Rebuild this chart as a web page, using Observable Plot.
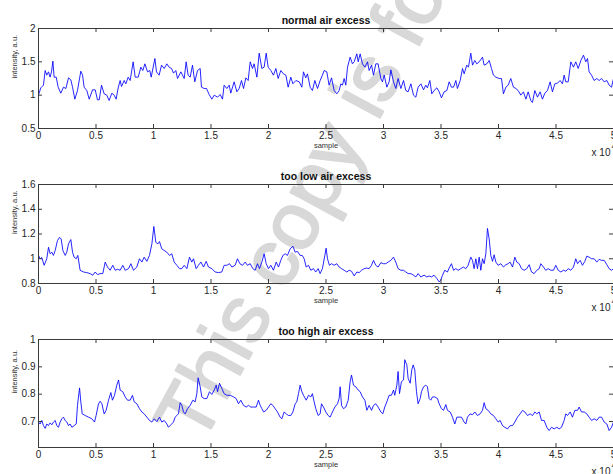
<!DOCTYPE html>
<html><head><meta charset="utf-8">
<script src="https://cdn.jsdelivr.net/npm/d3@7"></script>
<script src="https://cdn.jsdelivr.net/npm/@observablehq/plot@0.6"></script>
<style>
html,body{margin:0;padding:0;background:#fff;}
#wrap{position:relative;width:613px;height:474px;overflow:hidden;font-family:"Liberation Sans",Arial,sans-serif;}
#wrap svg.panel{display:block;max-width:none;position:relative;z-index:1;}
#wm{position:absolute;left:0;top:0;pointer-events:none;z-index:0;}
</style></head><body><div id="wrap"></div>
<script>
const titles = ["normal air excess", "too low air excess", "too high air excess"];
const xLabel = "sample";
const yLabel = "intensity, a.u.";
const xExponent = ["x 10", "4"];
const watermark = "This copy is for";
const xTicks = [0, 0.5, 1, 1.5, 2, 2.5, 3, 3.5, 4, 4.5, 5];
const yTicksNormal = [0.5, 1, 1.5, 2];
const yTicksLow = [0.8, 1, 1.2, 1.4, 1.6];
const yTicksHigh = [0.7, 0.8, 0.9, 1];
const yDomainNormal = [0.5, 2];
const yDomainLow = [0.8, 1.6];
const yDomainHigh = [0.605, 1];

// [sample (x 10^4), intensity]
const normal = [[0,1.0],[0.020,1.11],[0.043,1.15],[0.058,1.37],[0.072,1.30],[0.087,1.35],[0.101,1.27],[0.113,1.35],[0.125,1.51],[0.136,1.27],[0.154,1.27],[0.171,1.12],[0.194,1.03],[0.217,1.12],[0.238,1.10],[0.261,1.26],[0.281,1.23],[0.296,1.12],[0.316,0.94],[0.339,1.07],[0.368,1.36],[0.383,1.30],[0.397,1.12],[0.420,1.07],[0.441,0.94],[0.470,1.08],[0.493,1.08],[0.513,0.93],[0.528,0.93],[0.548,1.15],[0.571,1.02],[0.594,1.0],[0.614,0.92],[0.638,1.03],[0.658,1.0],[0.675,0.94],[0.693,1.11],[0.710,1.22],[0.722,1.13],[0.745,1.22],[0.759,1.17],[0.780,1.27],[0.797,1.22],[0.823,1.50],[0.841,1.27],[0.867,1.27],[0.890,1.42],[0.907,1.37],[0.925,1.47],[0.948,1.35],[0.968,1.37],[0.980,1.27],[1.012,1.55],[1.026,1.35],[1.049,1.30],[1.070,1.45],[1.093,1.40],[1.116,1.47],[1.136,1.42],[1.157,1.40],[1.174,1.33],[1.194,1.37],[1.209,1.25],[1.238,1.35],[1.267,1.25],[1.284,1.50],[1.301,1.30],[1.319,1.27],[1.339,1.45],[1.359,1.20],[1.383,1.37],[1.406,1.40],[1.417,1.12],[1.441,1.10],[1.461,1.10],[1.484,1.01],[1.507,0.94],[1.528,1.0],[1.557,0.97],[1.580,1.01],[1.600,0.94],[1.614,1.15],[1.638,1.10],[1.658,1.15],[1.672,1.03],[1.701,1.20],[1.725,1.05],[1.745,1.10],[1.765,1.22],[1.783,1.10],[1.803,1.26],[1.823,1.22],[1.841,1.50],[1.861,1.40],[1.875,1.47],[1.899,1.27],[1.919,1.63],[1.942,1.40],[1.962,1.42],[1.980,1.63],[1.997,1.42],[2.020,1.37],[2.043,1.30],[2.064,1.40],[2.084,1.25],[2.107,1.37],[2.130,1.32],[2.151,1.30],[2.171,1.12],[2.194,1.27],[2.212,1.17],[2.238,1.22],[2.267,1.20],[2.290,1.12],[2.304,1.35],[2.324,1.26],[2.339,1.32],[2.362,1.12],[2.382,1.07],[2.403,1.22],[2.426,1.10],[2.449,1.22],[2.469,1.30],[2.484,1.37],[2.507,1.35],[2.527,1.15],[2.548,1.26],[2.571,1.07],[2.594,1.02],[2.614,1.07],[2.629,1.17],[2.643,1.15],[2.658,1.25],[2.672,1.15],[2.687,1.42],[2.710,1.57],[2.730,1.47],[2.745,1.50],[2.768,1.62],[2.780,1.50],[2.797,1.62],[2.817,1.47],[2.838,1.42],[2.861,1.50],[2.875,1.37],[2.896,1.45],[2.913,1.30],[2.933,1.47],[2.953,1.47],[2.977,1.25],[2.991,1.20],[3.006,1.30],[3.029,1.12],[3.049,1.20],[3.064,1.38],[3.087,1.20],[3.107,1.10],[3.127,1.25],[3.151,1.10],[3.174,1.22],[3.194,1.07],[3.214,1.05],[3.238,1.17],[3.261,1.0],[3.281,0.97],[3.301,1.12],[3.325,1.17],[3.348,1.08],[3.368,1.15],[3.382,1.11],[3.403,1.22],[3.420,1.02],[3.440,1.07],[3.464,1.11],[3.484,1.05],[3.504,0.96],[3.527,1.05],[3.551,1.07],[3.571,1.20],[3.591,1.12],[3.609,1.12],[3.629,1.22],[3.643,1.10],[3.667,1.22],[3.687,1.40],[3.701,1.32],[3.724,1.45],[3.739,1.42],[3.759,1.63],[3.774,1.45],[3.794,1.52],[3.811,1.47],[3.832,1.50],[3.861,1.57],[3.875,1.45],[3.898,1.47],[3.919,1.52],[3.939,1.40],[3.956,1.30],[3.977,1.27],[4.006,1.25],[4.026,1.25],[4.043,1.02],[4.064,1.12],[4.084,1.15],[4.107,1.25],[4.130,1.12],[4.151,1.10],[4.171,1.07],[4.194,1.0],[4.217,1.05],[4.238,0.94],[4.258,1.05],[4.281,0.92],[4.295,0.89],[4.316,1.07],[4.339,0.97],[4.362,1.05],[4.382,0.94],[4.403,1.03],[4.426,1.07],[4.449,1.20],[4.469,1.05],[4.490,1.17],[4.513,1.18],[4.536,1.22],[4.556,1.17],[4.571,1.30],[4.585,1.20],[4.606,1.20],[4.629,1.50],[4.652,1.42],[4.672,1.50],[4.693,1.40],[4.716,1.52],[4.739,1.60],[4.759,1.50],[4.774,1.55],[4.788,1.35],[4.809,1.30],[4.832,1.22],[4.855,1.25],[4.875,1.22],[4.896,1.25],[4.919,1.20],[4.942,1.22],[4.962,1.15],[4.983,1.12],[5.0,1.25]];

const tooLow = [[0,1.027],[0.014,1.0],[0.029,1.01],[0.049,0.947],[0.072,1.0],[0.087,1.093],[0.101,1.04],[0.116,1.053],[0.130,1.027],[0.145,1.067],[0.165,1.147],[0.183,1.173],[0.197,1.16],[0.212,1.067],[0.232,1.027],[0.246,1.053],[0.261,1.12],[0.281,1.155],[0.296,1.053],[0.310,1.013],[0.328,1.0],[0.342,1.027],[0.362,0.907],[0.391,0.893],[0.420,0.888],[0.449,0.88],[0.472,0.867],[0.493,0.893],[0.513,0.872],[0.536,0.88],[0.559,0.88],[0.580,0.973],[0.600,0.933],[0.623,0.907],[0.646,0.947],[0.667,0.907],[0.687,0.915],[0.710,0.907],[0.733,0.947],[0.754,0.907],[0.783,0.92],[0.803,0.96],[0.826,0.907],[0.855,0.933],[0.878,1.0],[0.899,0.973],[0.919,1.013],[0.942,0.979],[0.965,1.027],[0.986,1.12],[1.003,1.261],[1.020,1.133],[1.038,1.12],[1.052,1.139],[1.072,1.08],[1.093,1.067],[1.116,1.053],[1.139,1.027],[1.159,1.04],[1.180,0.973],[1.203,0.947],[1.226,0.92],[1.246,0.92],[1.267,0.947],[1.290,0.92],[1.313,1.013],[1.333,0.973],[1.348,1.0],[1.371,0.92],[1.391,0.947],[1.412,0.973],[1.435,0.933],[1.458,0.979],[1.478,0.933],[1.507,0.92],[1.536,0.893],[1.565,0.888],[1.594,0.893],[1.614,0.947],[1.638,0.947],[1.661,0.96],[1.681,0.933],[1.710,0.947],[1.730,1.0],[1.751,0.96],[1.774,0.947],[1.797,0.973],[1.817,0.947],[1.841,0.96],[1.864,0.92],[1.884,0.907],[1.904,0.96],[1.922,0.92],[1.942,0.973],[1.962,1.04],[1.980,0.96],[2.0,0.92],[2.020,0.947],[2.043,0.907],[2.067,0.973],[2.087,0.933],[2.107,0.987],[2.125,1.027],[2.145,1.04],[2.165,1.027],[2.188,1.08],[2.212,1.101],[2.232,1.053],[2.252,1.059],[2.275,1.027],[2.293,1.027],[2.310,1.0],[2.328,0.933],[2.348,0.947],[2.368,0.907],[2.391,0.92],[2.411,0.893],[2.432,0.92],[2.449,0.88],[2.469,0.92],[2.490,1.027],[2.501,1.085],[2.513,1.0],[2.530,0.947],[2.548,0.96],[2.571,0.947],[2.594,0.96],[2.614,0.933],[2.635,0.92],[2.658,0.907],[2.681,0.893],[2.701,0.907],[2.722,0.899],[2.745,0.861],[2.768,0.893],[2.788,0.888],[2.809,0.907],[2.832,0.92],[2.855,0.925],[2.875,0.92],[2.896,0.947],[2.913,0.987],[2.933,0.947],[2.953,0.933],[2.977,0.968],[2.999,0.96],[3.020,0.96],[3.040,0.973],[3.064,0.987],[3.087,1.013],[3.107,0.973],[3.127,0.92],[3.151,0.907],[3.174,0.907],[3.194,0.893],[3.214,0.88],[3.238,0.88],[3.261,0.867],[3.281,0.853],[3.301,0.88],[3.325,0.853],[3.353,0.867],[3.377,0.853],[3.397,0.861],[3.417,0.853],[3.440,0.867],[3.464,0.84],[3.484,0.813],[3.498,0.827],[3.513,0.867],[3.533,0.907],[3.556,0.893],[3.571,0.925],[3.591,0.96],[3.609,0.907],[3.629,0.92],[3.649,0.907],[3.672,0.92],[3.695,0.933],[3.716,0.92],[3.736,0.947],[3.759,1.013],[3.774,0.987],[3.788,0.92],[3.803,1.0],[3.817,0.92],[3.832,1.013],[3.846,0.907],[3.861,1.0],[3.875,0.96],[3.890,1.04],[3.904,1.245],[3.919,1.16],[3.933,1.027],[3.948,0.979],[3.962,1.032],[3.977,0.973],[3.997,0.947],[4.020,0.96],[4.043,0.933],[4.064,0.952],[4.084,0.96],[4.101,0.973],[4.122,0.933],[4.142,1.013],[4.159,0.973],[4.180,0.96],[4.200,0.92],[4.223,0.907],[4.246,0.92],[4.267,0.952],[4.287,0.893],[4.310,0.88],[4.333,0.907],[4.354,0.92],[4.368,0.96],[4.391,0.933],[4.411,0.907],[4.432,0.92],[4.455,0.907],[4.478,0.907],[4.498,0.947],[4.519,0.907],[4.542,0.893],[4.565,0.907],[4.585,0.899],[4.606,0.92],[4.629,0.907],[4.652,0.933],[4.672,1.0],[4.687,0.96],[4.710,0.987],[4.730,0.947],[4.751,0.979],[4.768,1.021],[4.788,1.013],[4.809,1.0],[4.832,1.0],[4.855,0.973],[4.875,0.995],[4.896,0.987],[4.919,0.987],[4.942,0.952],[4.962,0.92],[4.983,0.907],[5.0,0.92]];

const tooHigh = [[0,0.698],[0.014,0.691],[0.029,0.704],[0.043,0.685],[0.058,0.675],[0.072,0.691],[0.087,0.685],[0.101,0.695],[0.116,0.688],[0.130,0.698],[0.145,0.704],[0.159,0.685],[0.174,0.679],[0.188,0.698],[0.203,0.710],[0.217,0.716],[0.232,0.704],[0.246,0.698],[0.261,0.685],[0.275,0.691],[0.290,0.679],[0.310,0.685],[0.328,0.691],[0.339,0.759],[0.357,0.823],[0.368,0.772],[0.380,0.728],[0.406,0.722],[0.435,0.716],[0.464,0.710],[0.487,0.698],[0.501,0.722],[0.522,0.765],[0.536,0.774],[0.551,0.765],[0.571,0.728],[0.588,0.741],[0.609,0.778],[0.629,0.806],[0.643,0.778],[0.661,0.796],[0.681,0.833],[0.696,0.852],[0.710,0.815],[0.733,0.809],[0.754,0.790],[0.774,0.778],[0.797,0.778],[0.817,0.796],[0.832,0.772],[0.855,0.765],[0.878,0.747],[0.899,0.735],[0.919,0.728],[0.942,0.716],[0.965,0.704],[0.986,0.698],[1.006,0.710],[1.029,0.700],[1.052,0.716],[1.072,0.698],[1.093,0.704],[1.116,0.691],[1.130,0.679],[1.151,0.688],[1.174,0.698],[1.188,0.716],[1.203,0.722],[1.217,0.728],[1.232,0.769],[1.246,0.759],[1.261,0.735],[1.275,0.728],[1.296,0.747],[1.319,0.759],[1.342,0.778],[1.362,0.772],[1.377,0.802],[1.388,0.860],[1.406,0.827],[1.420,0.790],[1.441,0.784],[1.464,0.784],[1.487,0.809],[1.507,0.799],[1.528,0.815],[1.545,0.833],[1.557,0.809],[1.574,0.840],[1.594,0.821],[1.614,0.802],[1.638,0.796],[1.667,0.796],[1.696,0.790],[1.719,0.784],[1.739,0.765],[1.759,0.778],[1.783,0.759],[1.806,0.753],[1.826,0.759],[1.846,0.753],[1.870,0.753],[1.893,0.753],[1.913,0.778],[1.928,0.759],[1.942,0.747],[1.957,0.735],[1.980,0.741],[2.0,0.753],[2.020,0.765],[2.038,0.759],[2.058,0.747],[2.078,0.735],[2.101,0.716],[2.116,0.710],[2.136,0.735],[2.154,0.728],[2.174,0.722],[2.194,0.722],[2.212,0.735],[2.232,0.765],[2.246,0.772],[2.261,0.802],[2.275,0.833],[2.290,0.809],[2.304,0.796],[2.328,0.778],[2.348,0.796],[2.368,0.790],[2.382,0.802],[2.397,0.772],[2.411,0.747],[2.432,0.722],[2.449,0.728],[2.461,0.765],[2.478,0.753],[2.498,0.735],[2.519,0.722],[2.536,0.716],[2.556,0.735],[2.577,0.753],[2.600,0.765],[2.614,0.784],[2.623,0.827],[2.635,0.759],[2.652,0.747],[2.672,0.753],[2.693,0.778],[2.710,0.846],[2.722,0.870],[2.739,0.833],[2.759,0.827],[2.780,0.815],[2.797,0.809],[2.817,0.790],[2.838,0.778],[2.855,0.741],[2.875,0.759],[2.896,0.741],[2.913,0.759],[2.933,0.765],[2.953,0.753],[2.977,0.735],[2.994,0.728],[3.011,0.753],[3.029,0.772],[3.049,0.796],[3.069,0.796],[3.087,0.815],[3.098,0.796],[3.116,0.833],[3.127,0.883],[3.139,0.802],[3.156,0.846],[3.174,0.852],[3.185,0.926],[3.203,0.907],[3.214,0.858],[3.232,0.840],[3.246,0.889],[3.258,0.907],[3.272,0.889],[3.287,0.809],[3.301,0.765],[3.319,0.784],[3.330,0.809],[3.348,0.827],[3.368,0.833],[3.382,0.827],[3.397,0.784],[3.411,0.778],[3.426,0.790],[3.446,0.790],[3.469,0.784],[3.484,0.765],[3.504,0.747],[3.522,0.741],[3.542,0.762],[3.556,0.741],[3.580,0.735],[3.600,0.716],[3.620,0.691],[3.638,0.716],[3.658,0.716],[3.678,0.716],[3.701,0.698],[3.716,0.691],[3.730,0.716],[3.753,0.728],[3.774,0.725],[3.794,0.735],[3.817,0.722],[3.840,0.728],[3.861,0.741],[3.875,0.769],[3.890,0.747],[3.910,0.741],[3.933,0.728],[3.956,0.722],[3.977,0.710],[3.997,0.698],[4.014,0.704],[4.035,0.685],[4.055,0.679],[4.078,0.673],[4.101,0.685],[4.122,0.685],[4.142,0.698],[4.165,0.716],[4.188,0.728],[4.209,0.741],[4.229,0.735],[4.252,0.722],[4.275,0.728],[4.296,0.722],[4.316,0.735],[4.333,0.728],[4.354,0.735],[4.374,0.704],[4.397,0.704],[4.420,0.679],[4.440,0.667],[4.461,0.679],[4.484,0.673],[4.507,0.679],[4.527,0.673],[4.548,0.679],[4.571,0.704],[4.585,0.728],[4.600,0.722],[4.623,0.735],[4.643,0.716],[4.664,0.741],[4.687,0.741],[4.701,0.753],[4.722,0.735],[4.745,0.735],[4.768,0.728],[4.788,0.716],[4.809,0.704],[4.832,0.710],[4.855,0.704],[4.875,0.716],[4.896,0.716],[4.919,0.698],[4.942,0.691],[4.962,0.667],[4.983,0.679],[5.0,0.698]];

const FONT = '"Liberation Sans", Arial, Helvetica, sans-serif';
const AXIS = "#3a3a3a";
const PLOT_W = 640, ML = 38, MR = 27, FRAME_W = PLOT_W - ML - MR;

function panel(series, title, yDomain, yTicks, height, frameH) {
  const mb = height - 28 - frameH;
  const svg = Plot.plot({
    width: PLOT_W, height, marginLeft: ML, marginRight: MR, marginTop: 28, marginBottom: mb,
    style: {fontFamily: FONT, fontSize: "10px", color: "#262626", background: "transparent", maxWidth: "none", overflow: "visible"},
    x: {domain: [0, 5], label: null},
    y: {domain: yDomain, label: null},
    marks: [
      Plot.line(series, {x: d => d[0], y: d => d[1], stroke: "#0000ff", strokeWidth: 1, strokeOpacity: 0.85}),
      Plot.frame({stroke: AXIS, strokeWidth: 1}),
      Plot.tickX(xTicks, {x: d => d, insetTop: frameH - 4, stroke: AXIS}),
      Plot.tickX(xTicks, {x: d => d, insetBottom: frameH - 4, stroke: AXIS}),
      Plot.tickY(yTicks, {y: d => d, insetLeft: FRAME_W - 4, stroke: AXIS}),
      Plot.tickY(yTicks, {y: d => d, insetRight: FRAME_W - 4, stroke: AXIS}),
      Plot.axisX({ticks: xTicks, anchor: "bottom", tickSize: 0, tickPadding: 3, tickFormat: d => String(d), fontSize: 10}),
      Plot.axisY({ticks: yTicks, anchor: "left", tickSize: 0, tickPadding: 3, tickFormat: d => String(d), fontSize: 10}),
      Plot.text([title], {text: d => d, frameAnchor: "top", dy: -12, fontWeight: "bold", fontSize: 10.5, fill: "#111"}),
      Plot.text([xLabel], {text: d => d, frameAnchor: "bottom", dy: 19, fontSize: 7.5, fill: "#333"}),
      Plot.text([yLabel], {text: d => d, frameAnchor: "left", dx: -24, rotate: -90, fontSize: 7.5, fill: "#333"}),
      Plot.text([xExponent[0]], {text: d => d, frameAnchor: "bottom-right", dx: -3, dy: 27, textAnchor: "end", fontSize: 10, fill: "#262626"}),
      Plot.text([xExponent[1]], {text: d => d, frameAnchor: "bottom-right", dx: -2, dy: 20, textAnchor: "start", fontSize: 7, fill: "#262626"})
    ]
  });
  svg.classList.add("panel");
  return svg;
}

const wrap = document.getElementById("wrap");

const wm = d3.create("svg").attr("id", "wm").attr("width", 613).attr("height", 474);
wm.append("text")
  .attr("transform", "translate(201,447) rotate(-61.5)")
  .attr("font-family", FONT).attr("font-size", 81)
  .attr("fill", "#d8d8d8").attr("stroke", "#d8d8d8").attr("stroke-width", 2)
  .attr("stroke-linejoin", "round")
  .text(watermark);
wrap.appendChild(wm.node());

wrap.appendChild(panel(normal, titles[0], yDomainNormal, yTicksNormal, 156, 100));
wrap.appendChild(panel(tooLow, titles[1], yDomainLow, yTicksLow, 155, 99));
wrap.appendChild(panel(tooHigh, titles[2], yDomainHigh, yTicksHigh, 163, 108));
</script></body></html>
